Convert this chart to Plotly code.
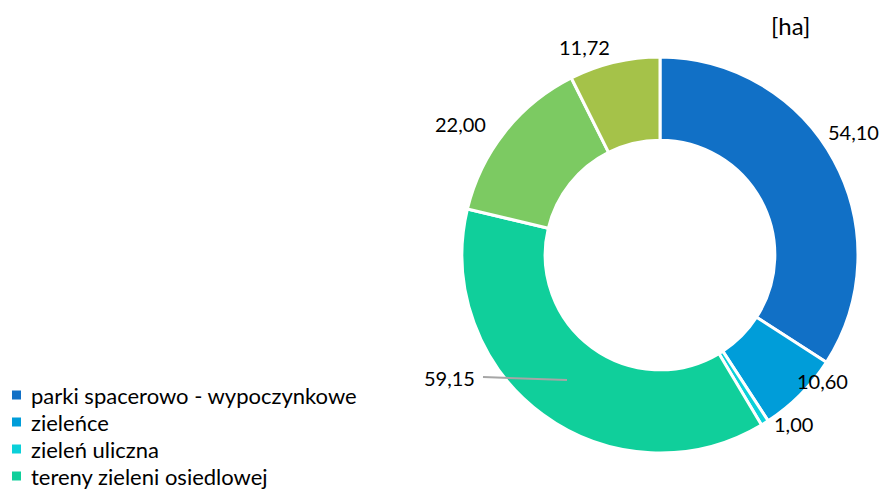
import plotly.graph_objects as go

# categories and values (ha)
labels = [
    "parki spacerowo - wypoczynkowe",
    "zieleńce",
    "zieleń uliczna",
    "tereny zieleni osiedlowej",
    "cmentarze",
    "lasy gminne",
]
values = [54.10, 10.60, 1.00, 59.15, 22.00, 11.72]
colors = ["#1170C6", "#009DD9", "#0BD0D9", "#10CF9B", "#7CCA62", "#A5C249"]

# value label positions (px) as placed in the source chart
label_px = [(853, 132), (822, 381), (793, 424), (449, 378), (460, 124), (584, 47)]

W, H = 880, 490
FONT = "Lato"


def px_x(x):
    return x / W


def px_y(y):
    return 1 - y / H


fig = go.Figure()
fig.add_trace(
    go.Pie(
        labels=labels,
        values=values,
        hole=0.58,
        sort=False,
        direction="clockwise",
        rotation=0,
        textinfo="none",
        hoverinfo="label+value",
        showlegend=False,
        marker=dict(colors=colors, line=dict(color="white", width=3)),
        domain=dict(x=[px_x(462), px_x(858)], y=[px_y(453), px_y(57)]),
    )
)

for v, (lx, ly) in zip(values, label_px):
    fig.add_annotation(
        x=px_x(lx), y=px_y(ly), xref="paper", yref="paper",
        xanchor="center", yanchor="middle",
        text=f"{v:.2f}".replace(".", ","), showarrow=False,
        font=dict(size=20, color="#000000", family=FONT),
    )

# leader line for the 59,15 label
fig.add_shape(
    type="line", xref="paper", yref="paper",
    x0=px_x(483), y0=px_y(377), x1=px_x(567), y1=px_y(380),
    line=dict(color="#A6A6A6", width=2),
)

fig.add_annotation(
    x=px_x(790), y=px_y(26), xref="paper", yref="paper",
    xanchor="center", yanchor="middle",
    text="[ha]", showarrow=False,
    font=dict(size=24, color="#000000", family=FONT),
)

# legend drawn by hand; it runs past the bottom edge like in the source,
# so only the rows that start inside the figure are drawn
for i, (name, c) in enumerate(zip(labels, colors)):
    yc = 395 + 27 * i
    if yc - 10 > H:
        break
    fig.add_shape(
        type="rect", xref="paper", yref="paper",
        x0=px_x(12), x1=px_x(21), y0=px_y(yc - 4.5), y1=px_y(yc + 4.5),
        fillcolor=c, line=dict(width=0),
    )
    fig.add_annotation(
        x=px_x(29), y=px_y(yc), xref="paper", yref="paper",
        xanchor="left", yanchor="middle",
        text=name, showarrow=False,
        font=dict(size=22, color="#000000", family=FONT),
    )

fig.update_layout(
    width=W, height=H,
    margin=dict(l=0, r=0, t=0, b=0),
    paper_bgcolor="white",
    plot_bgcolor="white",
    font=dict(family=FONT, color="#000000"),
    showlegend=False,
)

# drop the default 8px page margin so the figure fills the window exactly
fig.write_html(
    "out.html",
    config={"displayModeBar": False},
    post_script="document.body.style.margin = '0px';",
)
